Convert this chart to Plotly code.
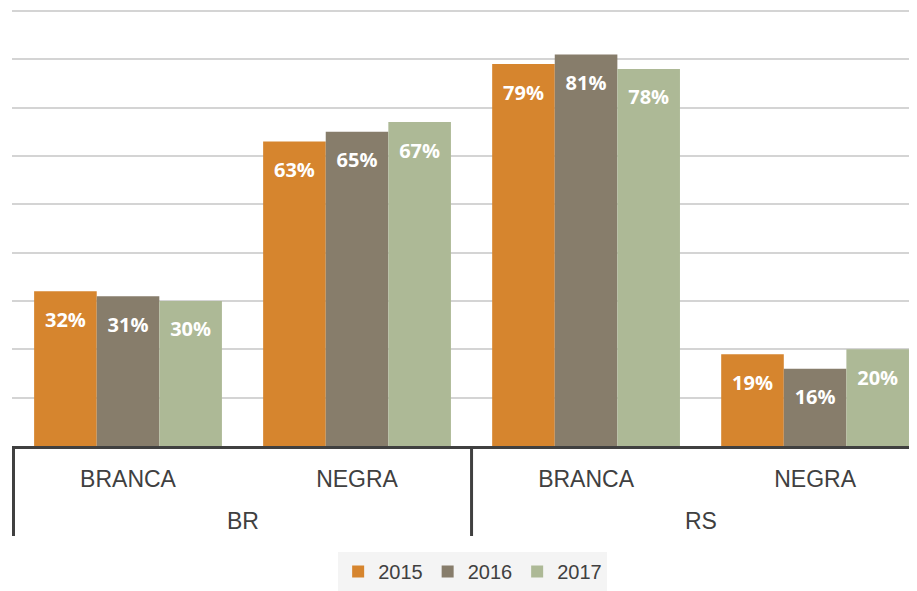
import plotly.graph_objects as go

regions = ["BR", "BR", "RS", "RS"]
races = ["BRANCA", "NEGRA", "BRANCA", "NEGRA"]
years = ["2015", "2016", "2017"]
values = {
    "2015": [32, 63, 79, 19],
    "2016": [31, 65, 81, 16],
    "2017": [30, 67, 78, 20],
}
colors = {"2015": "#d6852e", "2016": "#877d6b", "2017": "#adb996"}

keys = [f"{r} {c}" for r, c in zip(regions, races)]
label_drop = 6.3  # label centre below bar top, in axis units

fig = go.Figure()
for yr in years:
    fig.add_trace(go.Bar(
        x=keys, y=values[yr], name=yr,
        marker=dict(color=colors[yr], line=dict(width=0)),
        offsetgroup=yr,
    ))
for yr in years:
    fig.add_trace(go.Scatter(
        x=keys, y=[v - label_drop for v in values[yr]],
        mode="text", text=[f"{v}%" for v in values[yr]],
        textposition="middle center",
        textfont=dict(family="Open Sans", size=20, color="white", weight="bold"),
        offsetgroup=yr, showlegend=False, hoverinfo="skip",
    ))

# region (second-level) labels and dividers
region_names = list(dict.fromkeys(regions))
dark = "#404040"
boundaries = [-0.5]
for rn in region_names:
    idx = [i for i, r in enumerate(regions) if r == rn]
    fig.add_annotation(
        x=sum(idx) / len(idx), xref="x", y=0, yref="paper", yshift=-75,
        text=rn, showarrow=False, yanchor="middle",
        font=dict(family="Liberation Sans", size=23, color=dark),
    )
    boundaries.append(idx[-1] + 0.5)
for b in boundaries:
    fig.add_shape(
        type="line", xref="x", x0=b, x1=b,
        yref="paper", ysizemode="pixel", yanchor=0, y0=0, y1=-90,
        line=dict(color=dark, width=3),
    )

fig.update_layout(
    width=909, height=583,
    margin=dict(l=4, r=0, t=1, b=144),
    paper_bgcolor="white", plot_bgcolor="white",
    barmode="group", bargap=0.18, bargroupgap=0,
    scattermode="group", scattergap=0.18,
    showlegend=True,
    legend=dict(
        orientation="h", x=0.509, xanchor="center", y=-0.242, yanchor="top",
        bgcolor="#f4f4f4", font=dict(family="Liberation Sans", size=20, color=dark),
        itemclick=False, itemwidth=30,
    ),
    font=dict(family="Liberation Sans", color=dark),
)
fig.update_xaxes(
    type="category",
    range=[-0.5066, 3.445],
    tickvals=keys, ticktext=races,
    showline=True, linecolor=dark, linewidth=3,
    showgrid=False, ticks="", ticklabelstandoff=10,
    tickfont=dict(family="Liberation Sans", size=23, color=dark),
)
fig.update_yaxes(
    range=[0, 90.4], dtick=10, showticklabels=False,
    showgrid=True, gridcolor="#d4d4d4", gridwidth=1.5,
    zeroline=False, showline=False,
)

fig.write_html("out.html")
